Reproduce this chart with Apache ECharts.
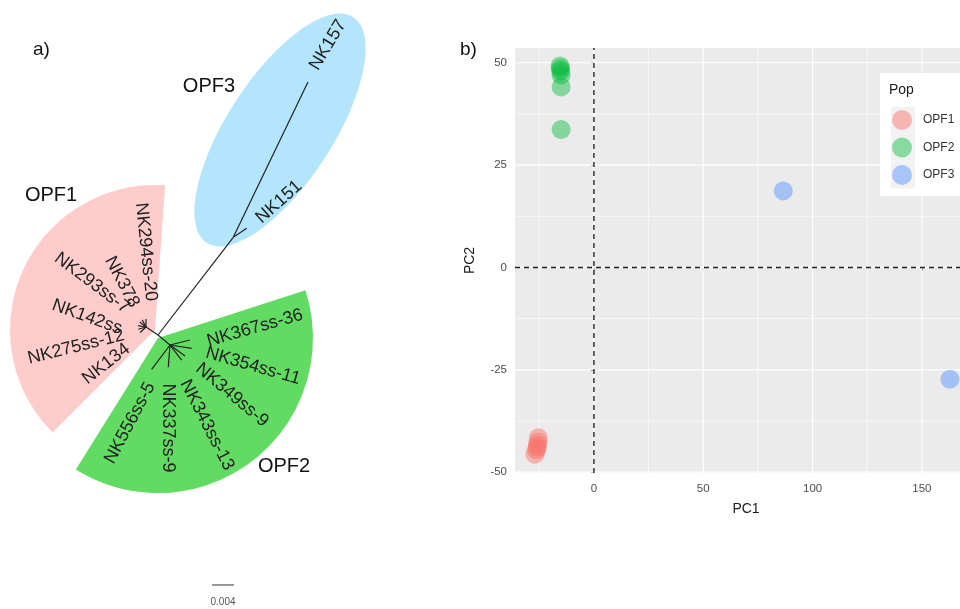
<!DOCTYPE html>
<html><head><meta charset="utf-8">
<script src="https://cdn.jsdelivr.net/npm/echarts@6/dist/echarts.min.js"></script>
<style>html,body{margin:0;padding:0;background:#fff;overflow:hidden;width:960px;height:609px}#c{width:1000px;height:609px}</style>
</head><body><div id="c"></div>
<script>
// ===== Panel a) unrooted tree, coordinates in units of 0.001 substitutions/site =====
const nodeNames  = ['root','A','B','C','NK157','NK151','NK294ss-20','NK378','NK293ss-7','NK142ss','NK275ss-12','NK134','NK367ss-36','NK354ss-11','NK349ss-9','NK343ss-13','NK337ss-9','NK556ss-5'];
const nodeParent = [null,'root','root','root','A','A','B','B','B','B','B','B','C','C','C','C','C','C'];
const nodeX = [0, 13.69, -2.18, 2.18, 27.27, 16.13, -2.18, -2.87, -3.31, -3.62, -3.58, -3.25, 5.82, 6.13, 4.91, 4.31, 1.87, -1.15];
const nodeY = [0, 17.76, 1.45, -1.82, 46.0, 19.40, 2.91, 2.75, 2.36, 1.71, 1.05, 0.45, -0.91, -2.42, -3.82, -4.55, -5.87, -6.24];

const tipLabels = ['NK157','NK151','NK294ss-20','NK378','NK293ss-7','NK142ss','NK275ss-12','NK134','NK367ss-36','NK354ss-11','NK349ss-9','NK343ss-13','NK337ss-9','NK556ss-5'];
const tipLabelX = [30.91, 22.0, -2.18, -6.55, -12.0, -12.91, -14.91, -9.45, 17.64, 17.27, 13.45, 8.91, 1.82, -5.09];
const tipLabelY = [52.73, 24.18, 15.09, 9.64, 9.45, 3.27, -2.18, -5.27, 1.27, -5.64, -10.91, -16.36, -16.91, -16.0];
const tipLabelAngle = [59, 42, -84, -62, -37, -20, 14, 38, 16, -16, -40, -63, -90, 62];

const groupNames = ['OPF1','OPF2','OPF3'];
const groupLabelX = [-19.45, 22.91, 9.27];
const groupLabelY = [25.45, -23.82, 45.27];
// clade shading: sectors (OPF1, OPF2) and ellipse (OPF3)
const sectorCX = [-0.55, 0.0];
const sectorCY = [0.91, -0.55];
const sectorR  = [26.36, 28.18];
const sectorFromDeg = [86, -122];
const sectorToDeg   = [225, 18];
const ellipseCX = 22.18, ellipseCY = 37.27, ellipseA = 24.45, ellipseB = 9.6, ellipseDeg = 57;

const scaleBarX = 9.82, scaleBarY = -45.45, scaleBarLen = 4, scaleBarText = '0.004';

// ===== Panel b) PCA =====
const opf1PC1 = [-25.4, -25.6, -25.8, -26.0, -26.2, -27.0];
const opf1PC2 = [-41.6, -42.6, -43.4, -44.0, -44.6, -45.6];
const opf2PC1 = [-15.5, -15.3, -15.2, -15.0, -15.0, -15.0];
const opf2PC2 = [49.2, 48.6, 48.0, 47.0, 44.1, 33.7];
const opf3PC1 = [86.6, 162.8];
const opf3PC2 = [18.7, -27.3];
const pcXTicks = [0, 50, 100, 150];
const pcYTicks = [-50, -25, 0, 25, 50];
const pcXMinor = [-25, 25, 75, 125, 175];
const pcYMinor = [-37.5, -12.5, 12.5, 37.5];

const PX_MIN = -36.1, PX_MAX = 175.2, PY_MIN = -50.2, PY_MAX = 53.6;
const FONT = '"Liberation Sans", Arial, sans-serif';

// build data
const idx = {}; nodeNames.forEach((n,i)=>idx[n]=i);
const edges = [];
nodeNames.forEach((n,i)=>{ const p=nodeParent[i]; if(p!==null){ const j=idx[p]; edges.push([nodeX[j],nodeY[j],nodeX[i],nodeY[i]]); }});
const tipData = tipLabels.map((n,i)=>[tipLabelX[i], tipLabelY[i], tipLabelAngle[i]]);
const groupData = groupNames.map((n,i)=>[groupLabelX[i], groupLabelY[i]]);
const sectorData = sectorCX.map((c,i)=>[c, sectorCY[i], sectorR[i], sectorFromDeg[i], sectorToDeg[i]]);
const zip = (a,b)=>a.map((v,i)=>[v,b[i]]);

const gridLines = [];
pcXTicks.forEach(v=>gridLines.push([v, 0, 1, 0]));
pcXMinor.forEach(v=>gridLines.push([v, 0, 0, 0]));
pcYTicks.forEach(v=>gridLines.push([0, v, 1, 1]));
pcYMinor.forEach(v=>gridLines.push([0, v, 0, 1]));

const chart = echarts.init(document.getElementById('c'), null, {renderer:'canvas'});
const DEG = Math.PI/180;
const option = {
  animation: false,
  backgroundColor: '#fff',
  textStyle: {fontFamily: FONT},
  grid: [
    {left: 0, top: 0, width: 460, height: 609, show: false},
    {left: 515, top: 48, width: 462, height: 425, show: true, backgroundColor: '#EBEBEB', borderWidth: 0}
  ],
  xAxis: [
    {gridIndex: 0, type: 'value', min: -28.727, max: 54.909, show: false},
    {gridIndex: 1, type: 'value', min: PX_MIN, max: PX_MAX, name: 'PC1', nameLocation: 'middle', nameGap: 29,
     nameTextStyle: {fontSize: 14, color: '#1a1a1a', fontFamily: FONT},
     axisLine: {show: false}, splitLine: {show: false},
     axisTick: {show: true, length: 3, lineStyle: {color: '#333', width: 1}, customValues: pcXTicks},
     axisLabel: {customValues: pcXTicks, color: '#4D4D4D', fontSize: 11.5, margin: 10, fontFamily: FONT}}
  ],
  yAxis: [
    {gridIndex: 0, type: 'value', min: -49.818, max: 60.909, show: false},
    {gridIndex: 1, type: 'value', min: PY_MIN, max: PY_MAX, name: 'PC2', nameLocation: 'middle', nameGap: 38, nameRotate: 90,
     nameTextStyle: {fontSize: 14, color: '#1a1a1a', fontFamily: FONT},
     axisLine: {show: false}, splitLine: {show: false},
     axisTick: {show: true, length: 3, lineStyle: {color: '#333', width: 1}, customValues: pcYTicks},
     axisLabel: {customValues: pcYTicks, color: '#4D4D4D', fontSize: 11.5, margin: 8, fontFamily: FONT}}
  ],
  legend: {
    data: ['OPF1','OPF2','OPF3'], orient: 'vertical', left: 892, top: 110, padding: 0,
    itemWidth: 20, itemHeight: 20, itemGap: 7.5, icon: 'circle',
    textStyle: {fontSize: 12, color: '#333', fontFamily: FONT, padding: [0,0,0,6]},
    selectedMode: false, z: 20
  },
  graphic: [
    {type: 'rect', shape: {x: 880, y: 73, width: 110, height: 123}, style: {fill: '#fff'}, z: 10},
    {type: 'rect', shape: {x: 891, y: 107, width: 24, height: 27}, style: {fill: '#F2F2F2'}, z: 11},
    {type: 'rect', shape: {x: 891, y: 134, width: 24, height: 27.5}, style: {fill: '#F2F2F2'}, z: 11},
    {type: 'rect', shape: {x: 891, y: 161.5, width: 24, height: 27}, style: {fill: '#F2F2F2'}, z: 11},
    {type: 'text', x: 889, y: 90, style: {text: 'Pop', font: '14px ' + FONT, fill: '#1a1a1a', verticalAlign: 'middle'}, z: 12},
    {type: 'text', x: 33, y: 50, style: {text: 'a)', font: '19px ' + FONT, fill: '#111', verticalAlign: 'middle'}},
    {type: 'text', x: 460, y: 50, style: {text: 'b)', font: '19px ' + FONT, fill: '#111', verticalAlign: 'middle'}}
  ],
  series: [
    // clade shading sectors
    {type: 'custom', xAxisIndex: 0, yAxisIndex: 0, z: 1, silent: true, data: sectorData,
     renderItem: (p, api) => {
       const c = api.coord([api.value(0), api.value(1)]);
       const r = api.size([api.value(2), 0])[0];
       const cols = ['#FFCCCC', '#62DB62'];
       return {type: 'sector', shape: {cx: c[0], cy: c[1], r: r, r0: 0,
         startAngle: -api.value(4) * DEG, endAngle: -api.value(3) * DEG, clockwise: true},
         style: {fill: cols[p.dataIndex]}};
     }},
    // OPF3 ellipse
    {type: 'custom', xAxisIndex: 0, yAxisIndex: 0, z: 1, silent: true, data: [[ellipseCX, ellipseCY, ellipseA, ellipseB, ellipseDeg]],
     renderItem: (p, api) => {
       const c = api.coord([api.value(0), api.value(1)]);
       const a = api.size([api.value(2), 0])[0];
       const b = api.size([api.value(3), 0])[0];
       return {type: 'ellipse', x: c[0], y: c[1], rotation: api.value(4) * DEG,
         shape: {cx: 0, cy: 0, rx: a, ry: b}, style: {fill: '#B3E5FC'}};
     }},
    // branches
    {type: 'custom', xAxisIndex: 0, yAxisIndex: 0, z: 3, silent: true, data: edges,
     renderItem: (p, api) => {
       const a = api.coord([api.value(0), api.value(1)]);
       const b = api.coord([api.value(2), api.value(3)]);
       return {type: 'line', shape: {x1: a[0], y1: a[1], x2: b[0], y2: b[1]}, style: {stroke: '#222', lineWidth: 1.2}};
     }},
    // tip labels
    {type: 'custom', xAxisIndex: 0, yAxisIndex: 0, z: 4, silent: true, data: tipData,
     renderItem: (p, api) => {
       const c = api.coord([api.value(0), api.value(1)]);
       return {type: 'text', x: c[0], y: c[1], rotation: api.value(2) * DEG,
         style: {text: tipLabels[p.dataIndex], font: '18px ' + FONT, fill: '#222', align: 'center', verticalAlign: 'middle'}};
     }},
    // group labels
    {type: 'custom', xAxisIndex: 0, yAxisIndex: 0, z: 4, silent: true, data: groupData,
     renderItem: (p, api) => {
       const c = api.coord([api.value(0), api.value(1)]);
       return {type: 'text', x: c[0], y: c[1],
         style: {text: groupNames[p.dataIndex], font: '20px ' + FONT, fill: '#111', align: 'center', verticalAlign: 'middle'}};
     }},
    // scale bar
    {type: 'custom', xAxisIndex: 0, yAxisIndex: 0, z: 4, silent: true, data: [[scaleBarX, scaleBarY, scaleBarLen]],
     renderItem: (p, api) => {
       const a = api.coord([api.value(0), api.value(1)]);
       const b = api.coord([api.value(0) + api.value(2), api.value(1)]);
       return {type: 'group', children: [
         {type: 'line', shape: {x1: a[0], y1: a[1], x2: b[0], y2: b[1]}, style: {stroke: '#333', lineWidth: 1}},
         {type: 'text', x: (a[0] + b[0]) / 2, y: a[1] + 17, style: {text: scaleBarText, font: '10px ' + FONT, fill: '#555', align: 'center', verticalAlign: 'middle'}}
       ]};
     }},
    // PCA grid lines
    {type: 'custom', xAxisIndex: 1, yAxisIndex: 1, z: 1, silent: true, clip: true, data: gridLines,
     renderItem: (p, api) => {
       const major = api.value(2) === 1, horiz = api.value(3) === 1;
       let a, b;
       if (horiz) { a = api.coord([PX_MIN, api.value(1)]); b = api.coord([PX_MAX, api.value(1)]); }
       else { a = api.coord([api.value(0), PY_MIN]); b = api.coord([api.value(0), PY_MAX]); }
       return {type: 'line', shape: {x1: a[0], y1: a[1], x2: b[0], y2: b[1]},
         style: {stroke: '#FFFFFF', lineWidth: major ? 1.2 : 0.6}};
     }},
    // dashed zero lines
    {type: 'custom', xAxisIndex: 1, yAxisIndex: 1, z: 2, silent: true, data: [[0, 0, 0], [0, 0, 1]],
     renderItem: (p, api) => {
       let a, b;
       if (api.value(2) === 1) { a = api.coord([PX_MIN, 0]); b = api.coord([PX_MAX, 0]); }
       else { a = api.coord([0, PY_MIN]); b = api.coord([0, PY_MAX]); }
       return {type: 'line', shape: {x1: a[0], y1: a[1], x2: b[0], y2: b[1]},
         style: {stroke: '#222', lineWidth: 1.4, lineDash: [5, 4]}};
     }},
    {name: 'OPF1', type: 'scatter', xAxisIndex: 1, yAxisIndex: 1, z: 5, symbolSize: 19, data: zip(opf1PC1, opf1PC2),
     itemStyle: {color: 'rgba(248,118,109,0.6)'}},
    {name: 'OPF2', type: 'scatter', xAxisIndex: 1, yAxisIndex: 1, z: 5, symbolSize: 19, data: zip(opf2PC1, opf2PC2),
     itemStyle: {color: 'rgba(0,186,56,0.55)'}},
    {name: 'OPF3', type: 'scatter', xAxisIndex: 1, yAxisIndex: 1, z: 5, symbolSize: 19, data: zip(opf3PC1, opf3PC2),
     itemStyle: {color: 'rgba(97,156,255,0.65)'}}
  ]
};
chart.setOption(option);
</script></body></html>
